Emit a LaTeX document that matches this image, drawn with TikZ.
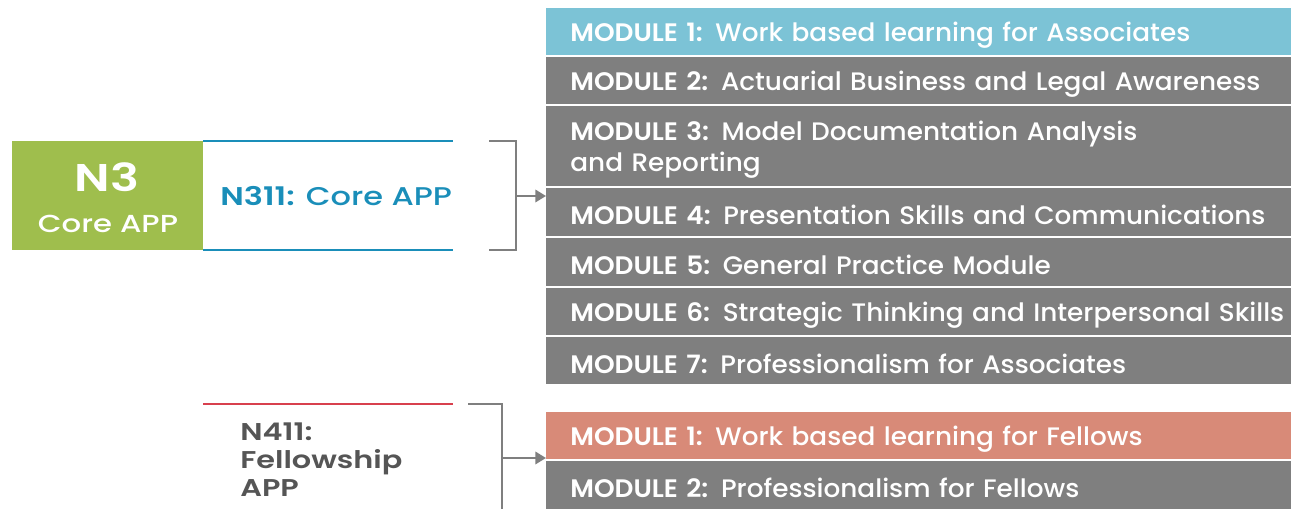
\documentclass[tikz,border=0pt]{standalone}
\usepackage{fontspec}
\setmainfont{Poppins}[UprightFont={* Medium}, BoldFont={* SemiBold}, FakeStretch=1.04]
\newfontfamily\widefont{Poppins}[UprightFont={* Medium}, BoldFont={* SemiBold}, FakeStretch=1.25]
\usetikzlibrary{arrows.meta}

\definecolor{modblue}{HTML}{7CC3D6}
\definecolor{modgray}{HTML}{7F7F7F}
\definecolor{modred}{HTML}{D88A78}
\definecolor{apgreen}{HTML}{9FBE4D}
\definecolor{apblue}{HTML}{1A8EB9}
\definecolor{apred}{HTML}{D8404E}
\definecolor{aptext}{HTML}{555555}

\newcommand{\modline}[1]{\hspace*{0.48cm}\raisebox{-0.06cm}[\height][\depth]{#1}}

\tikzstyle{modrow} = [anchor=north west, inner xsep=0pt, inner ysep=0pt, text width=14.9cm, align=left, text=white, font=\fontsize{14.4}{17.6}\selectfont]
\tikzstyle{brk} = [draw=modgray, line width=1.2pt]

\begin{document}
\begin{tikzpicture}[x=0.02cm, y=-0.02cm, >={Triangle[length=6pt,width=7pt]}]
    \useasboundingbox (0,0) rectangle (1291,509);

    % core APP block
    \node at (12,141) [anchor=north west, fill=apgreen, minimum width=3.82cm, minimum height=2.18cm, inner sep=0pt] (n3) {};
    \node at (107,192) [anchor=base, inner sep=0pt, text=white, font=\widefont\fontsize{22}{24}\selectfont\bfseries] (n3title) {N3};
    \node at (108,233) [anchor=base, inner sep=0pt, text=white, font=\widefont\fontsize{14}{15}\selectfont] (n3sub) {Core APP};
    \draw [apblue, line width=1.2pt] (203,141) -- (453,141);
    \draw [apblue, line width=1.2pt] (203,250) -- (453,250);
    \node at (220,206) [anchor=base west, inner sep=0pt, text=apblue, font=\widefont\fontsize{14.6}{15}\selectfont] (n311) {\textbf{N311:} Core APP};

    % associate modules
    \node at (546,8) [modrow, fill=modblue, minimum height=0.94cm] (a1) {\modline{\textbf{MODULE 1:} Work based learning for Associates}};
    \node at (546,57) [modrow, fill=modgray, minimum height=0.94cm] (a2) {\modline{\textbf{MODULE 2:} Actuarial Business and Legal Awareness}};
    \node at (546,106) [modrow, fill=modgray, minimum height=1.6cm] (a3) {\modline{\textbf{MODULE 3:} Model Documentation Analysis}\\\modline{and Reporting}};
    \node at (546,188) [modrow, fill=modgray, minimum height=0.96cm] (a4) {\modline{\textbf{MODULE 4:} Presentation Skills and Communications}};
    \node at (546,238) [modrow, fill=modgray, minimum height=0.96cm] (a5) {\modline{\textbf{MODULE 5:} General Practice Module}};
    \node at (546,288) [modrow, fill=modgray, minimum height=0.94cm] (a6) {\modline{\textbf{MODULE 6:} Strategic Thinking and Interpersonal Skills}};
    \node at (546,337) [modrow, fill=modgray, minimum height=0.94cm] (a7) {\modline{\textbf{MODULE 7:} Professionalism for Associates}};

    % bracket core
    \coordinate (c1) at (489,141);
    \coordinate (c2) at (516,141);
    \coordinate (c3) at (516,250);
    \coordinate (c4) at (489,250);
    \coordinate (c5) at (516,196);
    \draw [brk] (c1) -- (c2) -- (c3) -- (c4);
    \draw [brk, ->, fill=modgray] (c5) -- (c5 -| a4.west);

    % fellowship block
    \draw [apred, line width=1.2pt] (203,404) -- (453,404);
    \node at (240,460) [anchor=west, inner sep=0pt, align=left, text=aptext, font=\widefont\fontsize{13.8}{15.9}\selectfont\bfseries] (n411) {N411:\\Fellowship\\APP};

    % fellow modules
    \node at (546,412) [modrow, fill=modred, minimum height=0.94cm] (f1) {\modline{\textbf{MODULE 1:} Work based learning for Fellows}};
    \node at (546,461) [modrow, fill=modgray, minimum height=0.96cm] (f2) {\modline{\textbf{MODULE 2:} Professionalism for Fellows}};

    % bracket fellow
    \coordinate (d1) at (468,404);
    \coordinate (d2) at (502,404);
    \coordinate (d3) at (502,509);
    \coordinate (d4) at (502,458);
    \draw [brk] (d1) -- (d2) -- (d3);
    \draw [brk, ->, fill=modgray] (d4) -- (d4 -| f1.west);

\end{tikzpicture}
\end{document}
